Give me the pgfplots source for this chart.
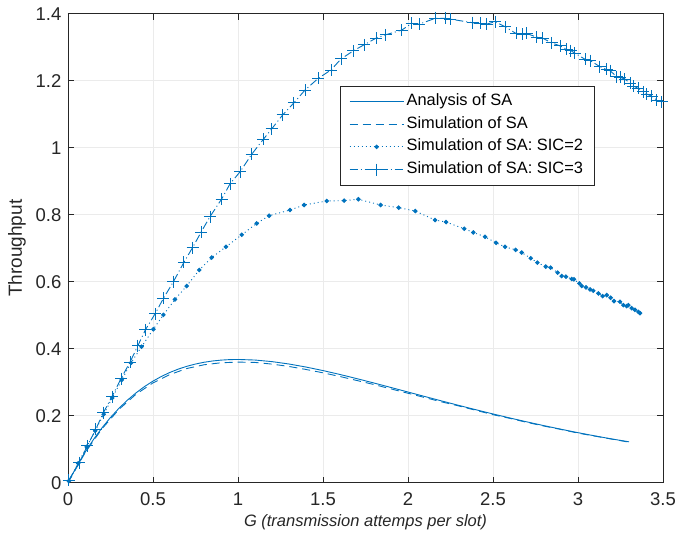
\documentclass[border=0pt]{standalone}
\usepackage{fontspec}
\setmainfont{Liberation Sans}
\usepackage{pgfplots}
\pgfplotsset{compat=1.18}
\definecolor{mblue}{RGB}{0,114,189}
\definecolor{axgray}{RGB}{38,38,38}
\begin{document}
\fontsize{16.2bp}{19bp}\selectfont
\begin{tikzpicture}
\path[use as bounding box] (-68bp,-58.3bp) rectangle (608bp,482.7bp);
\begin{axis}[
  at={(0,0)}, anchor=south west,
  width=595bp, height=469bp, scale only axis,
  xmin=0, xmax=3.5, ymin=0, ymax=1.4,
  xtick={0,0.5,1,1.5,2,2.5,3,3.5},
  ytick={0,0.2,0.4,0.6,0.8,1,1.2,1.4},
  /pgf/number format/assume math mode=true,
  grid=major,
  major grid style={color=black!8, line width=0.5bp},
  axis line style={axgray, line width=0.6bp},
  tick style={axgray, line width=0.6bp},
  tick align=inside, tick pos=both, major tick length=6bp,
  ticklabel style={text=axgray, font=\fontsize{18.5bp}{22bp}\selectfont},
  xticklabel style={yshift=-4bp},
  yticklabel style={xshift=-1bp},
  xlabel={\itshape G (transmission attemps per slot)},
  ylabel={Throughput},
  label style={text=axgray},
  xlabel style={at={(axis description cs:0.5,0)}, anchor=center, yshift=-39.5bp, font=\fontsize{16.5bp}{19bp}\selectfont},
  ylabel style={at={(axis description cs:-0.0857,0.5)}, anchor=center, font=\fontsize{19bp}{22bp}\selectfont},
  legend style={at={(0.457,0.8465)}, anchor=north west, draw=axgray, line width=0.6bp,
    fill=white, cells={anchor=west}, row sep=3.6bp, inner xsep=9bp, inner ysep=6bp,
    nodes={inner xsep=2.5bp, inner ysep=2bp, text height=0.72em, text depth=0.21em},
    font=\fontsize{16.4bp}{19bp}\selectfont},
  legend image code/.code={\draw[mark repeat=2,mark phase=2,#1] plot coordinates {(0bp,0bp) (27bp,0bp) (54bp,0bp)};},
  every axis plot/.append style={line width=0.9bp, color=mblue},
]
\addplot[solid] coordinates {
(0,0) (0.05,0.04756) (0.1,0.09048) (0.15,0.12911) (0.2,0.16375) (0.25,0.19470)
(0.3,0.22225) (0.35,0.24664) (0.4,0.26813) (0.45,0.28694) (0.5,0.30327)
(0.55,0.31733) (0.6,0.32929) (0.65,0.33932) (0.7,0.34761) (0.75,0.35427)
(0.8,0.35946) (0.85,0.36331) (0.9,0.36591) (0.95,0.36741) (1.0,0.36788)
(1.1,0.36616) (1.2,0.36143) (1.3,0.35429) (1.4,0.34524) (1.5,0.33470)
(1.6,0.32303) (1.7,0.31056) (1.8,0.29753) (1.9,0.28418) (2.0,0.27067)
(2.1,0.25716) (2.2,0.24377) (2.3,0.23060) (2.4,0.21772) (2.5,0.20521)
(2.6,0.19309) (2.7,0.18149) (2.8,0.17027) (2.9,0.15953) (3.0,0.14936)
(3.1,0.13964) (3.2,0.13045) (3.3,0.12205)
};
\addlegendentry{Analysis of SA}
\addplot[dash pattern=on 8bp off 5bp] coordinates {
(0,0) (0.1,0.089) (0.2,0.161) (0.3,0.219) (0.4,0.264) (0.5,0.298) (0.6,0.323)
(0.7,0.341) (0.8,0.352) (0.9,0.358) (1.0,0.360) (1.1,0.359) (1.2,0.354)
(1.3,0.347) (1.4,0.338) (1.5,0.328) (1.6,0.317) (1.7,0.305) (1.8,0.293)
(1.9,0.280) (2.0,0.267) (2.1,0.254) (2.2,0.241) (2.3,0.229) (2.4,0.216)
(2.5,0.203) (2.6,0.192) (2.7,0.180) (2.8,0.169) (2.9,0.159) (3.0,0.148)
(3.1,0.139) (3.2,0.130) (3.3,0.121)
};
\addlegendentry{Simulation of SA}
\addplot[dash pattern=on 1bp off 3bp, mark=*, mark size=1.8bp, mark options={solid}] coordinates {
(0.005,0.005) (0.06,0.058) (0.11,0.107) (0.16,0.155) (0.21,0.204) (0.26,0.253)
(0.316,0.307) (0.371,0.358) (0.433,0.406) (0.502,0.458) (0.561,0.501)
(0.629,0.547) (0.698,0.587) (0.772,0.635) (0.845,0.672) (0.929,0.704)
(1.022,0.740) (1.110,0.774) (1.183,0.797) (1.306,0.814) (1.389,0.829)
(1.522,0.841) (1.624,0.842) (1.708,0.846) (1.839,0.829) (1.945,0.821)
(2.043,0.811) (2.159,0.784) (2.224,0.778) (2.331,0.758) (2.384,0.747)
(2.453,0.734) (2.518,0.716) (2.571,0.704) (2.633,0.695) (2.669,0.687)
(2.722,0.670) (2.761,0.657) (2.810,0.645) (2.839,0.642) (2.880,0.627)
(2.904,0.617) (2.929,0.615) (2.963,0.608) (2.976,0.607) (3.008,0.595)
(3.022,0.587) (3.047,0.583) (3.071,0.577) (3.090,0.573) (3.120,0.565)
(3.145,0.557) (3.169,0.560) (3.192,0.552) (3.212,0.542) (3.247,0.540)
(3.267,0.530) (3.286,0.527) (3.296,0.530) (3.316,0.521) (3.335,0.516)
(3.355,0.510) (3.365,0.506)
};
\addlegendentry{Simulation of SA: SIC=2}
\addplot[dash pattern=on 8bp off 3bp on 1bp off 3bp, mark=+, mark size=6bp, mark options={solid}] coordinates {
(0.005,0.008) (0.066,0.060) (0.114,0.110) (0.163,0.159) (0.208,0.209)
(0.259,0.257) (0.312,0.311) (0.365,0.360) (0.411,0.409) (0.455,0.456)
(0.512,0.504) (0.561,0.550) (0.620,0.600) (0.682,0.658) (0.733,0.702)
(0.783,0.748) (0.835,0.794) (0.904,0.847) (0.953,0.892) (1.012,0.928)
(1.080,0.980) (1.149,1.025) (1.198,1.056) (1.263,1.098) (1.329,1.134)
(1.394,1.172) (1.472,1.207) (1.547,1.232) (1.606,1.265) (1.678,1.289)
(1.741,1.307) (1.812,1.327) (1.868,1.337) (1.963,1.351) (2.022,1.371)
(2.067,1.369) (2.159,1.386) (2.218,1.386) (2.247,1.384) (2.380,1.373)
(2.424,1.371) (2.463,1.369) (2.512,1.376) (2.571,1.361) (2.635,1.341)
(2.675,1.338) (2.698,1.341) (2.757,1.330) (2.792,1.327) (2.845,1.313)
(2.894,1.304) (2.933,1.294) (2.957,1.290) (2.982,1.282) (3.041,1.264)
(3.071,1.260) (3.129,1.242) (3.169,1.234) (3.188,1.230) (3.228,1.212)
(3.247,1.210) (3.276,1.205) (3.306,1.192) (3.325,1.184) (3.355,1.177)
(3.384,1.167) (3.404,1.160) (3.433,1.154) (3.463,1.142) (3.492,1.137)
};
\addlegendentry{Simulation of SA: SIC=3}
\end{axis}
\end{tikzpicture}
\end{document}
